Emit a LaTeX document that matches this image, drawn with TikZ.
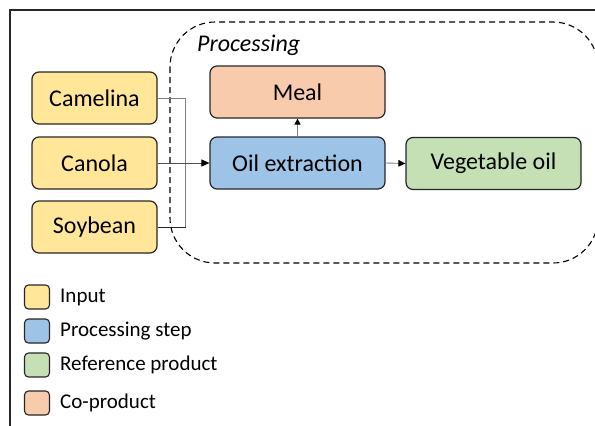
\documentclass[tikz,border=0pt]{standalone}
\usepackage{fontspec}
\setmainfont{Carlito}
\usetikzlibrary{arrows.meta}
\definecolor{cinput}{HTML}{FFE699}
\definecolor{cproc}{HTML}{9DC3E6}
\definecolor{cref}{HTML}{C5E0B4}
\definecolor{cco}{HTML}{F8CBAD}
\definecolor{edge}{HTML}{262626}
\tikzset{
  box/.style={draw=edge, line width=1.2pt, rounded corners=7pt, minimum width=125pt, minimum height=52pt, inner sep=0pt, font=\fontsize{24}{28}\selectfont, text=black},
  wide/.style={minimum width=175pt},
  legsq/.style={draw=edge, line width=1.1pt, rounded corners=4pt, minimum width=25pt, minimum height=24pt, inner sep=0pt},
  legtxt/.style={anchor=west, inner sep=0pt, font=\fontsize{21}{25}\selectfont},
  conn/.style={draw=black!50, line width=0.9pt},
  arr/.style={conn, -{Triangle[length=8pt,width=7pt,color=black]}},
}
\begin{document}
\begin{tikzpicture}[x=1pt,y=-1pt]
\useasboundingbox (0,0) rectangle (595,426);
\draw[line width=1.2pt, black!85] (10,426) -- (10,10) -- (596,10);
\draw[dashed, line width=1.1pt, dash pattern=on 6pt off 4pt, rounded corners=45pt] (170,22) rectangle (598,263);
\node[anchor=west, inner sep=0pt, font=\fontsize{24}{28}\selectfont\itshape] (ptitle) at (197,45) {Processing};
\node[box, fill=cinput] (cam) at (94.5,98) {Camelina};
\node[box, fill=cinput] (can) at (94.5,163) {Canola};
\node[box, fill=cinput] (soy) at (94.5,227) {Soybean};
\node[box, wide, fill=cco] (meal) at (297.5,92) {Meal};
\node[box, wide, fill=cproc] (oil) at (297.5,163) {Oil extraction};
\node[box, wide, fill=cref] (veg) at (493.5,163.5) {Vegetable oil};
\coordinate (j) at (185.5,163);
\draw[conn] (cam.east) -| (j);
\draw[conn] (j) |- (soy.east);
\draw[conn, draw=black!85] (soy.east) -- (soy.east -| j);
\draw[arr, draw=black!70] (can.east) -- (oil.west);
\draw[arr, -{Triangle[length=6pt,width=6pt,color=black]}] (oil.north) -- (meal.south);
\draw[arr, -{Triangle[length=7pt,width=6.5pt,color=black]}] (oil.east) -- (veg.west);
\node[legsq, fill=cinput] (l1) at (37,297) {};
\node[legsq, fill=cproc] (l2) at (37,331) {};
\node[legsq, fill=cref] (l3) at (37,365) {};
\node[legsq, fill=cco] (l4) at (37,403) {};
\node[legtxt] (t1) at (60,297) {Input};
\node[legtxt] (t2) at (60,331) {Processing step};
\node[legtxt] (t3) at (60,365) {Reference product};
\node[legtxt] (t4) at (60,403) {Co-product};
\end{tikzpicture}
\end{document}
